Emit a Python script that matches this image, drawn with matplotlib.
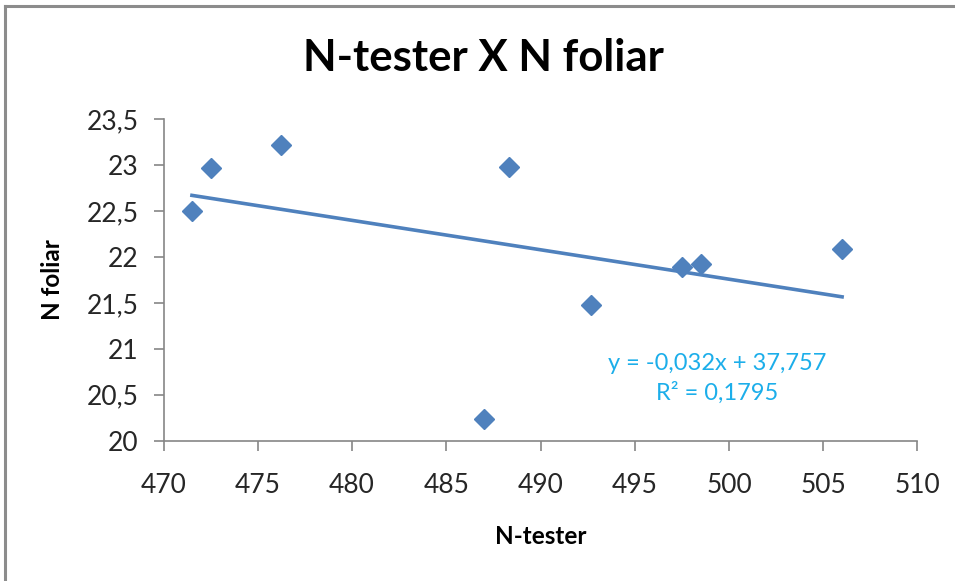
import numpy as np
import matplotlib.pyplot as plt
from matplotlib.lines import Line2D
from matplotlib.ticker import FuncFormatter, MultipleLocator

plt.rcParams['font.family'] = ['Lato', 'DejaVu Sans']

# leituras N-tester x N foliar
n_tester = [471.5, 472.5, 476.2, 487.0, 488.3, 492.7, 497.5, 498.5, 506.0]
n_foliar = [22.50, 22.97, 23.22, 20.24, 22.98, 21.48, 21.89, 21.92, 22.09]

# linha de tendencia (Excel)
slope = -0.032
intercept = 37.757
r2 = 0.1795

blue = '#4F81BD'
grey = '#868686'

fig = plt.figure(figsize=(9.55, 5.81), dpi=100)
ax = fig.add_axes([0.1714, 0.2415, 0.7893, 0.5537])

ax.plot(n_tester, n_foliar, linestyle='none', marker='D', ms=10.5,
        color=blue, zorder=3)

xt = np.array([min(n_tester), max(n_tester)])
ax.plot(xt, slope * xt + intercept, color=blue, lw=2.6, zorder=2)

ax.set_xlim(470, 510)
ax.set_ylim(20, 23.5)
ax.xaxis.set_major_locator(MultipleLocator(5))
ax.yaxis.set_major_locator(MultipleLocator(0.5))
ax.yaxis.set_major_formatter(FuncFormatter(lambda v, p: ('%g' % v).replace('.', ',')))

for s in ['top', 'right']:
    ax.spines[s].set_visible(False)
for s in ['left', 'bottom']:
    ax.spines[s].set_color(grey)
    ax.spines[s].set_linewidth(1.2)
ax.tick_params(axis='both', direction='out', length=7, width=1.2, color=grey,
               labelsize=19, labelcolor='#262626')
ax.tick_params(axis='y', pad=11)
ax.tick_params(axis='x', pad=16)

ax.set_xlabel('N-tester', fontsize=17.5, fontweight='bold', labelpad=20)
ax.set_ylabel('N foliar', fontsize=17.5, fontweight='bold', labelpad=16)

eq = 'y = %sx + %s\nR² = %s' % (
    ('%.3f' % slope).replace('.', ','),
    ('%.3f' % intercept).replace('.', ','),
    ('%.4f' % r2).replace('.', ','))
ax.text(499.35, 20.68, eq, color='#1CAEEA', fontsize=17, ha='center',
        va='center', linespacing=1.4, multialignment='center')

fig.text(0.506, 0.900, 'N-tester X N foliar', fontsize=31.5, fontweight='bold',
         ha='center', va='center')

# moldura do grafico
fig.add_artist(Line2D([0.005, 1.0], [0.9897, 0.9897], color='#8c8c8c', lw=2.2,
                      transform=fig.transFigure))
fig.add_artist(Line2D([0.005, 0.005], [0.0, 0.9897], color='#8c8c8c', lw=2.2,
                      transform=fig.transFigure))

fig.savefig('out.png', dpi=100)
